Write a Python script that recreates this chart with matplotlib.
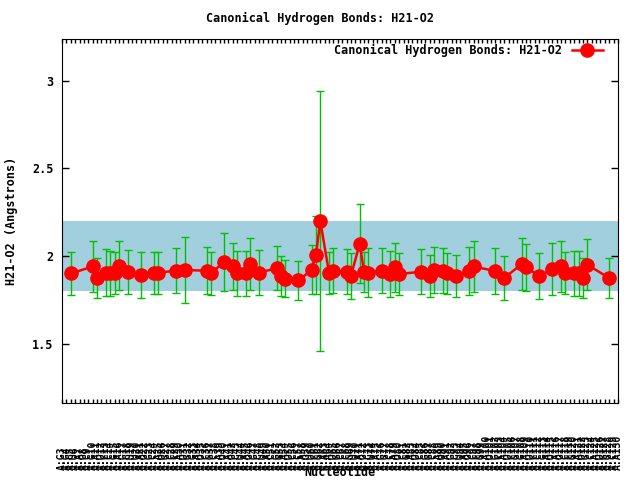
import matplotlib
matplotlib.use('Agg')
import matplotlib.pyplot as plt

# nucleotide index of each canonical H21-O2 bond
pos = [2, 7, 8, 10, 11, 12, 13, 15, 18, 21, 22, 26, 28, 33, 34, 37, 39, 40, 42, 43,
       45, 49, 50, 51, 54, 57, 58, 59, 61, 62, 65, 66, 68, 69, 70, 73, 75, 76, 77, 82,
       84, 85, 87, 88, 90, 93, 94, 99, 101, 105, 106, 109, 112, 114, 115, 117, 118, 119, 120, 125]
# mean distance (Angstrom)
dist = [1.90, 1.94, 1.876, 1.905, 1.90, 1.905, 1.945, 1.91, 1.89, 1.90,
        1.905, 1.916, 1.92, 1.916, 1.90, 1.967, 1.94, 1.90, 1.90, 1.954,
        1.905, 1.93, 1.887, 1.87, 1.86, 1.92, 2.006, 2.20, 1.90, 1.916,
        1.91, 1.887, 2.07, 1.907, 1.905, 1.916, 1.897, 1.935, 1.897, 1.91,
        1.887, 1.92, 1.917, 1.90, 1.886, 1.914, 1.94, 1.914, 1.874, 1.954,
        1.935, 1.886, 1.926, 1.94, 1.905, 1.90, 1.90, 1.876, 1.95, 1.874]
# standard deviation
sd = [0.125, 0.145, 0.115, 0.135, 0.13, 0.12, 0.14, 0.125, 0.13, 0.12,
      0.12, 0.13, 0.19, 0.135, 0.125, 0.165, 0.135, 0.13, 0.13, 0.15,
      0.13, 0.125, 0.115, 0.105, 0.11, 0.14, 0.225, 0.745, 0.12, 0.13,
      0.13, 0.13, 0.225, 0.115, 0.14, 0.13, 0.13, 0.14, 0.12, 0.13,
      0.12, 0.13, 0.13, 0.115, 0.12, 0.135, 0.145, 0.13, 0.125, 0.15,
      0.135, 0.13, 0.15, 0.145, 0.12, 0.13, 0.13, 0.115, 0.145, 0.115]

seq = ("GGCUAGCGAUCCGAGCUUAGGCAUGCCAUGGAUCGCAUAGCUAGGCUACGGAUCCAGUCGAAUGCCGUAGCUA"
       "GGCAUCGAUCGGCAUAGCUAGCCGAUGCAUCGGAUCCGAUAGCCGAUGCAUGGCAUCGAUCCGAUAGC")
tick_labels = [f"A:{seq[i % len(seq)]}{i + 3}" for i in range(128)]

title = "Canonical Hydrogen Bonds: H21-O2"
font = ['DejaVu Sans Mono']

fig = plt.figure(figsize=(6.4, 4.8), dpi=100)
ax = fig.add_axes([0.097, 0.1604, 0.8686, 0.7584])

ax.axhspan(1.8, 2.2, color='#a2cfdd', lw=0, zorder=0)
ax.errorbar(pos, dist, yerr=sd, fmt='none', ecolor='#00c000', elinewidth=1,
            capsize=3, capthick=1, zorder=2)
ax.plot(pos, dist, color='red', lw=1.8, marker='o', ms=9.5, zorder=3, label=title)

ax.set_xlim(0, 127)
ax.set_ylim(1.16, 3.24)
ax.set_xticks(range(128))
ax.set_xticklabels(tick_labels, rotation=90, family=font, fontsize=7, fontweight='bold')
for lbl in ax.get_xticklabels():
    lbl.set_va('bottom')
ax.set_yticks([1.5, 2, 2.5, 3])
ax.set_yticklabels(['1.5', '2', '2.5', '3'], family=font, fontsize=8.5, fontweight='bold')
ax.tick_params(axis='x', direction='in', top=True, length=3, width=1, pad=48)
ax.tick_params(axis='y', direction='in', right=True, length=5, width=1, pad=6)

ax.set_xlabel('Nucleotide', family=font, fontsize=8.5, fontweight='bold', labelpad=-3)
ax.set_ylabel('H21-O2 (Angstrons)', family=font, fontsize=8.5, fontweight='bold', labelpad=10)
fig.suptitle(title, family=font, fontsize=8.5, fontweight='bold', y=0.975)

leg = ax.legend(loc='upper right', bbox_to_anchor=(0.985, 1.005), frameon=False,
                markerfirst=False, prop={'family': font, 'size': 8.5, 'weight': 'bold'},
                handlelength=2.6, borderaxespad=0.2)

fig.savefig('out.png', dpi=100)
